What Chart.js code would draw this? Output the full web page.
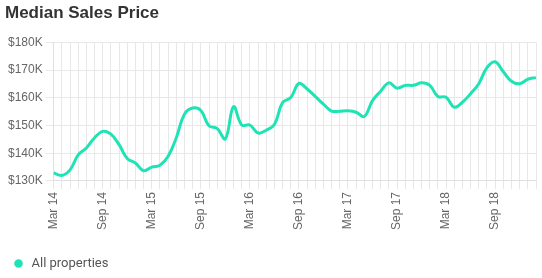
<!DOCTYPE html>
<html>
<head>
<meta charset="utf-8">
<script src="https://cdn.jsdelivr.net/npm/chart.js@4"></script>
<style>
  html, body { margin: 0; padding: 0; background: #fff; }
  #wrap { position: relative; width: 542px; height: 278px; }
</style>
</head>
<body>
<div id="wrap"><canvas id="salesChart"></canvas></div>
<script>
// Chart data
const months = [
    'Mar 14', 'Apr 14', 'May 14', 'Jun 14', 'Jul 14', 'Aug 14', 'Sep 14', 'Oct 14', 'Nov 14', 'Dec 14', 'Jan 15', 'Feb 15',
    'Mar 15', 'Apr 15', 'May 15', 'Jun 15', 'Jul 15', 'Aug 15', 'Sep 15', 'Oct 15', 'Nov 15', 'Dec 15', 'Jan 16', 'Feb 16',
    'Mar 16', 'Apr 16', 'May 16', 'Jun 16', 'Jul 16', 'Aug 16', 'Sep 16', 'Oct 16', 'Nov 16', 'Dec 16', 'Jan 17', 'Feb 17',
    'Mar 17', 'Apr 17', 'May 17', 'Jun 17', 'Jul 17', 'Aug 17', 'Sep 17', 'Oct 17', 'Nov 17', 'Dec 17', 'Jan 18', 'Feb 18',
    'Mar 18', 'Apr 18', 'May 18', 'Jun 18', 'Jul 18', 'Aug 18', 'Sep 18', 'Oct 18', 'Nov 18', 'Dec 18', 'Jan 19', 'Feb 19'
];

const allProperties = [
    132900, 132000, 134000, 139400, 141900, 145600, 147900, 146900, 143100, 138100, 136500, 133700,
    135000, 135700, 138900, 145600, 154100, 156300, 155400, 149900, 148900, 145200, 156800, 150200,
    150200, 147300, 148300, 150400, 158300, 160100, 165200, 163200, 160500, 157700, 155200, 155200,
    155300, 154800, 153300, 159000, 162400, 165400, 163500, 164500, 164500, 165400, 164500, 160500,
    160200, 156600, 158400, 161500, 165100, 170900, 173000, 169400, 166000, 165100, 166700, 167300
];

const yTicks = [130000, 140000, 150000, 160000, 170000, 180000];
const labelEvery = 6;

const lineColor = '#1fe3b5';

const ctx = document.getElementById('salesChart').getContext('2d');
const salesChart = new Chart(ctx, {
    type: 'line',
    data: {
        labels: months,
        datasets: [{
            label: 'All properties',
            data: allProperties,
            borderColor: lineColor,
            backgroundColor: lineColor,
            borderWidth: 3,
            pointRadius: 0,
            pointHoverRadius: 0,
            tension: 0.4,
            fill: false
        }]
    },
    options: {
        responsive: true,
        maintainAspectRatio: false,
        animation: false,
        layout: {
            padding: { left: 5, right: 6, top: 0, bottom: -2 }
        },
        plugins: {
            title: {
                display: true,
                text: 'Median Sales Price',
                align: 'start',
                color: '#333',
                font: { family: "'Liberation Sans', Arial, sans-serif", size: 17, weight: 'bold' },
                padding: { top: 3, bottom: 19 }
            },
            legend: {
                position: 'bottom',
                align: 'start',
                labels: {
                    usePointStyle: true,
                    pointStyle: 'circle',
                    boxWidth: 14,
                    boxHeight: 6,
                    color: '#555',
                    font: { family: 'Roboto, sans-serif', size: 13 },
                    padding: 7,
                    generateLabels: function(chart) {
                        // no outline on the legend dot
                        const items = Chart.defaults.plugins.legend.labels.generateLabels(chart);
                        items.forEach(item => { item.lineWidth = 0; });
                        return items;
                    }
                }
            },
            tooltip: { enabled: false }
        },
        scales: {
            x: {
                grid: { color: '#e8e8e8' },
                border: { color: '#e0e0e0' },
                afterFit: function(scale) {
                    // leave room above the legend, no extra side padding
                    scale.height += 17;
                    scale.paddingLeft = 0;
                    scale.paddingRight = 0;
                },
                ticks: {
                    autoSkip: false,
                    maxRotation: 90,
                    minRotation: 90,
                    color: '#666',
                    font: { size: 12 },
                    callback: function(value, index) {
                        return index % labelEvery === 0 ? months[index] : '';
                    }
                }
            },
            y: {
                min: yTicks[0],
                max: yTicks[yTicks.length - 1],
                grid: { color: '#e8e8e8' },
                border: { color: '#e0e0e0' },
                afterBuildTicks: function(axis) {
                    axis.ticks = yTicks.map(v => ({ value: v }));
                },
                ticks: {
                    color: '#666',
                    font: { size: 12 },
                    callback: function(value) {
                        return '$' + (value / 1000) + 'K';
                    }
                }
            }
        }
    }
});
</script>
</body>
</html>
